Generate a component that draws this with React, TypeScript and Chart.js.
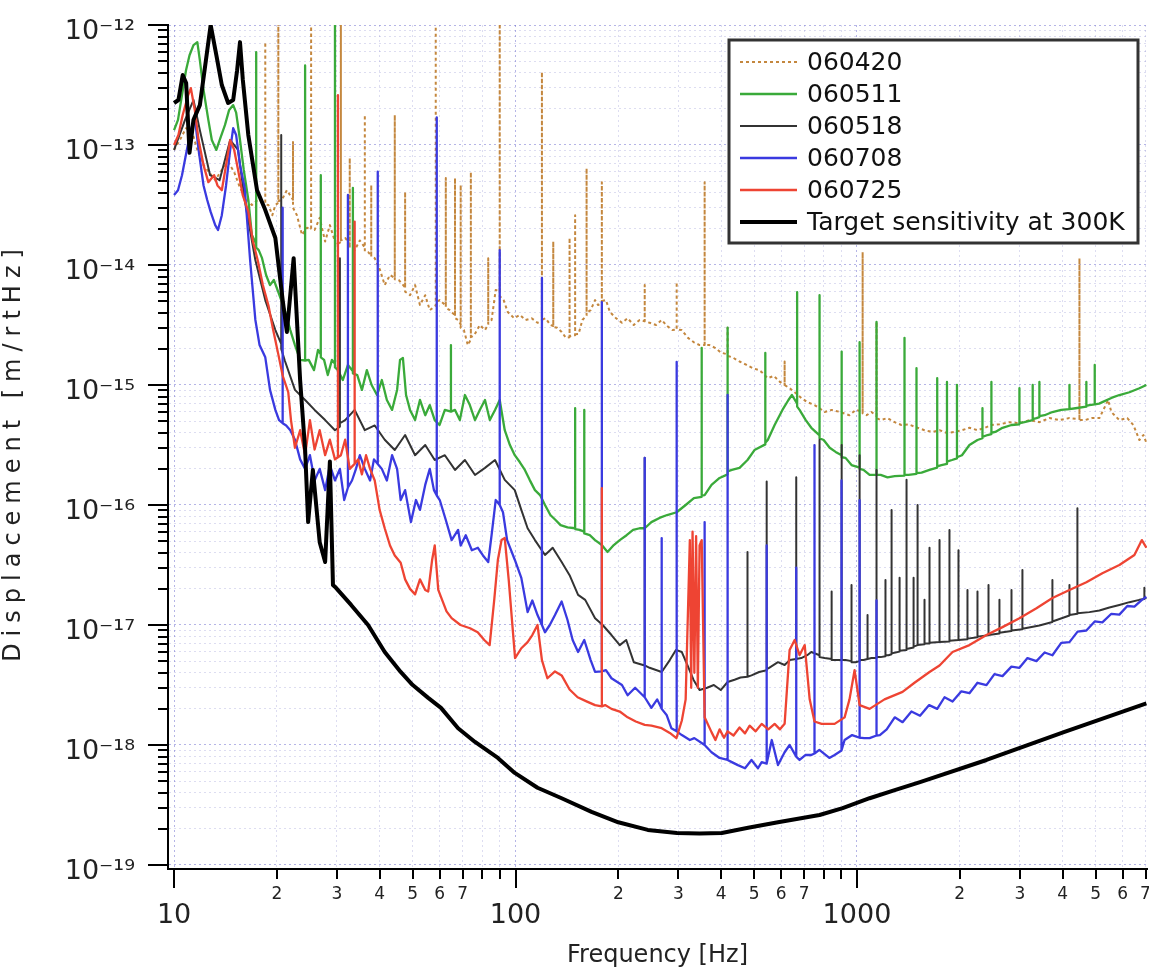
import React, { useEffect, useRef } from 'react';
import { Chart, registerables } from 'chart.js';

Chart.register(...registerables);

type Pt = [number, number];

const FONT = "'DejaVu Sans', 'Noto Sans', sans-serif";

// ---- axis ticks and titles ----
const freqTicks = [10, 20, 30, 40, 50, 60, 70, 80, 90, 100, 200, 300, 400, 500, 600, 700, 800, 900, 1000, 2000, 3000, 4000, 5000, 6000, 7000];
const freqTickLabels = ['10', '2', '3', '4', '5', '6', '7', '', '', '100', '2', '3', '4', '5', '6', '7', '', '', '1000', '2', '3', '4', '5', '6', '7'];
const dispDecades = [1e-19, 1e-18, 1e-17, 1e-16, 1e-15, 1e-14, 1e-13, 1e-12];
const dispDecadeLabels = ['10⁻¹⁹', '10⁻¹⁸', '10⁻¹⁷', '10⁻¹⁶', '10⁻¹⁵', '10⁻¹⁴', '10⁻¹³', '10⁻¹²'];
const dispMinorSteps = [2, 3, 4, 5, 6, 7, 8, 9];
const xAxisTitle = 'Frequency [Hz]';
const yAxisTitle = 'Displacement [m/rtHz]';

// ---- series ----
const seriesLabels = ['060420', '060511', '060518', '060708', '060725', 'Target sensitivity at 300K'];

const target300K: Pt[] = [
  [10, 2.24e-13], [10.3, 2.37e-13], [10.6, 3.83e-13], [10.85, 3.29e-13], [11.1, 8.6e-14], [11.4, 1.62e-13],
  [11.9, 2.15e-13], [12.4, 5.1e-13], [12.8, 1.0e-12], [13.3, 5.6e-13], [13.8, 3.16e-13], [14.4, 2.24e-13],
  [14.9, 2.37e-13], [15.3, 4.2e-13], [15.6, 7.2e-13], [15.9, 3.5e-13], [16.5, 1.21e-13], [17.5, 4.2e-14],
  [18.4, 2.99e-14], [19.8, 1.68e-14], [20.8, 5.1e-15], [21.4, 2.76e-15], [22.4, 1.14e-14], [23.4, 1.1e-15],
  [24.2, 2.9e-16], [24.7, 7.2e-17], [25.5, 1.96e-16], [26.7, 4.9e-17], [27.7, 3.35e-17], [28.6, 2.3e-16],
  [29.2, 2.15e-17], [29.8, 2.04e-17], [33.0, 1.47e-17], [37.0, 1.0e-17], [41.4, 5.95e-18], [46.1, 4.06e-18],
  [50.0, 3.16e-18], [55.5, 2.47e-18], [60.5, 2.04e-18], [67.9, 1.38e-18], [76.1, 1.06e-18], [88.8, 7.8e-19],
  [99.5, 5.85e-19], [116, 4.4e-19], [136.5, 3.6e-19], [167, 2.77e-19], [200, 2.27e-19], [244, 1.96e-19],
  [297, 1.85e-19], [346, 1.83e-19], [402, 1.85e-19], [480, 2.04e-19], [587, 2.27e-19], [777, 2.61e-19],
  [908, 2.98e-19], [1089, 3.6e-19], [1290, 4.2e-19], [1530, 4.9e-19], [2395, 7.5e-19], [4035, 1.28e-18],
  [7040, 2.22e-18],
];

const run060725: Pt[] = [
  [10, 1.0e-13], [10.3, 1.21e-13], [10.6, 1.78e-13], [11.0, 2.61e-13], [11.2, 2.98e-13], [11.5, 1.96e-13],
  [11.8, 1.1e-13], [12.2, 6.8e-14], [12.6, 4.9e-14], [13.1, 5.6e-14], [13.4, 4.6e-14], [13.8, 4.2e-14],
  [14.2, 6.8e-14], [14.6, 1.1e-13], [15.0, 9.1e-14], [15.4, 6.2e-14], [15.9, 3.8e-14], [16.5, 2.8e-14],
  [17.0, 1.6e-14], [17.6, 1.08e-14], [18.2, 6.8e-15], [18.9, 4.6e-15], [19.5, 2.9e-15], [20.2, 1.8e-15],
  [20.8, 1.2e-15], [21.6, 8.7e-16], [22.0, 5.1e-16], [22.6, 3.0e-16], [23.4, 4.2e-16], [24.2, 2.6e-16],
  [25.0, 5.1e-16], [25.8, 2.9e-16], [26.7, 4.2e-16], [27.7, 2.6e-16], [28.6, 3.5e-16], [29.6, 2.4e-16],
  [30.2, 2.5e-16], [30.2, 2.6e-13], [30.2, 2.5e-16],
  [30.8, 2.6e-16], [31.7, 3.5e-16], [32.7, 2.0e-16],
  [33.8, 2.2e-16], [33.8, 2.3e-14], [33.8, 2.2e-16],
  [34.6, 2.4e-16], [35.5, 1.8e-16], [36.5, 2.6e-16], [37.5, 2.0e-16], [38.7, 1.6e-16], [40.0, 9.1e-17],
  [41.4, 6.4e-17], [42.9, 4.6e-17], [44.3, 3.8e-17], [46.1, 3.3e-17], [47.5, 2.4e-17], [49.1, 2.0e-17],
  [50.8, 1.8e-17], [52.5, 2.4e-17], [54.4, 1.96e-17], [55.5, 1.9e-17], [57.0, 3.5e-17], [58.0, 4.6e-17],
  [59.4, 1.96e-17], [62.8, 1.3e-17], [65.0, 1.14e-17], [69.0, 1.0e-17], [73.6, 9.4e-18], [77.5, 8.7e-18],
  [81.0, 7.5e-18], [84.0, 6.8e-18], [86.6, 1.6e-17], [88.8, 3.5e-17], [91.0, 5.1e-17], [93.0, 5.3e-17],
  [95.5, 2.4e-17], [99.7, 5.3e-18], [104, 6.4e-18], [108.5, 7.2e-18], [112, 8.25e-18], [116, 1.0e-17],
  [119.5, 5.1e-18], [124, 3.6e-18], [130.5, 4.1e-18], [136.5, 3.8e-18], [144, 2.9e-18], [152, 2.5e-18],
  [162, 2.3e-18], [171, 2.15e-18],
  [179, 2.1e-18], [179, 1.38e-16], [179, 2.1e-18],
  [183, 2.15e-18], [191, 2.0e-18], [202, 1.9e-18], [213, 1.7e-18], [225, 1.57e-18], [239, 1.47e-18],
  [250, 1.45e-18], [268, 1.38e-18], [283, 1.26e-18], [296, 1.14e-18], [307, 1.6e-18], [315, 2.4e-18],
  [324, 5.1e-17], [327, 3.0e-18], [330, 6.0e-17], [334, 4.0e-18], [338, 5.5e-17], [342, 3.0e-18],
  [346, 4.6e-17], [351, 5.1e-17], [358, 1.7e-18], [375, 1.28e-18], [385, 1.1e-18], [396, 1.35e-18],
  [408, 1.15e-18], [418, 1.3e-18], [435, 1.2e-18], [453, 1.4e-18], [470, 1.25e-18], [485, 1.45e-18],
  [505, 1.3e-18], [526, 1.5e-18], [550, 1.35e-18], [574, 1.5e-18], [595, 1.35e-18], [614, 1.5e-18],
  [635, 6.2e-18], [657, 7.5e-18], [679, 5.6e-18], [703, 6.8e-18], [727, 2.4e-18], [751, 1.57e-18],
  [788, 1.5e-18], [860, 1.5e-18], [920, 1.7e-18], [951, 2.4e-18], [984, 4.2e-18], [1018, 2.15e-18],
  [1089, 2.0e-18], [1204, 2.4e-18], [1360, 2.77e-18], [1474, 3.3e-18], [1631, 4.06e-18], [1745, 4.6e-18],
  [1905, 5.95e-18], [2135, 6.8e-18], [2395, 8.25e-18], [2668, 9.6e-18], [2991, 1.14e-17], [3355, 1.38e-17],
  [3736, 1.68e-17], [4191, 1.96e-17], [4697, 2.27e-17], [5232, 2.7e-17], [5868, 3.16e-17], [6494, 3.83e-17],
  [6830, 5.1e-17], [7040, 4.4e-17],
];

const run060708: Pt[] = [
  [10, 3.83e-14], [10.27, 4.2e-14], [10.55, 5.6e-14], [10.9, 9.1e-14], [11.2, 1.33e-13], [11.5, 1.7e-13],
  [11.8, 9.1e-14], [12.2, 4.6e-14], [12.5, 3.5e-14], [12.8, 2.77e-14], [13.2, 2.15e-14], [13.45, 1.96e-14],
  [13.8, 2.6e-14], [14.2, 4.6e-14], [14.6, 9.1e-14], [14.9, 1.38e-13], [15.2, 1.21e-13], [15.6, 6.8e-14],
  [16.1, 4.4e-14], [16.7, 1.1e-14], [17.3, 3.5e-15], [17.8, 2.15e-15], [18.5, 1.7e-15], [19.1, 9.1e-16],
  [19.8, 6.2e-16], [20.3, 5.1e-16],
  [20.8, 4.8e-16], [20.8, 3.0e-14], [20.8, 4.8e-16],
  [21.3, 4.6e-16], [21.9, 4.2e-16], [22.6, 3.5e-16], [23.4, 2.4e-16], [24.2, 2.0e-16], [25.0, 2.6e-16],
  [25.8, 1.6e-16], [26.7, 2.0e-16], [27.7, 1.33e-16], [28.6, 2.15e-16], [29.6, 1.6e-16], [30.6, 2.0e-16],
  [31.5, 1.1e-16],
  [32.3, 1.4e-16], [32.3, 3.83e-14], [32.3, 1.4e-16],
  [33.2, 1.6e-16], [34.1, 2.0e-16], [35.0, 2.6e-16], [36.2, 2.0e-16], [37.5, 1.6e-16], [38.5, 2.4e-16],
  [39.5, 2.2e-16], [39.5, 6.0e-14], [39.5, 2.2e-16],
  [40.6, 2.0e-16], [42.0, 1.6e-16], [43.5, 2.6e-16], [45.0, 2.0e-16], [46.1, 1.1e-16], [47.5, 1.33e-16],
  [49.4, 7.2e-17], [51.1, 1.1e-16], [52.5, 9.1e-17], [54.4, 1.47e-16], [56.1, 2.0e-16], [57.7, 1.33e-16],
  [58.8, 1.2e-16], [58.8, 1.7e-13], [58.8, 1.2e-16],
  [60.0, 1.1e-16], [62.5, 7.5e-17], [65.0, 5.1e-17], [67.9, 6.2e-17], [69.1, 4.6e-17], [71.5, 5.6e-17],
  [74.5, 4.2e-17], [77.6, 4.4e-17], [80.3, 3.8e-17], [83.2, 3.35e-17], [85.1, 5.6e-17], [87.5, 1.1e-16],
  [89.9, 1.0e-16], [89.9, 1.33e-14], [89.9, 1.0e-16],
  [91.9, 8.7e-17], [94.5, 5.1e-17], [99.5, 3.5e-17], [104, 2.47e-17], [108.5, 1.28e-17], [112, 1.6e-17],
  [116, 1.21e-17],
  [119.5, 1.0e-17], [119.5, 7.8e-15], [119.5, 1.0e-17],
  [122, 8.7e-18], [126, 1.0e-17], [130.5, 1.21e-17], [136.5, 1.57e-17], [142, 1.1e-17], [147, 7.5e-18],
  [152.5, 5.95e-18], [159, 7.5e-18], [166, 5.1e-18], [171, 4.06e-18],
  [179, 4.1e-18], [179, 4.9e-15], [179, 4.1e-18],
  [184, 4.2e-18], [191, 3.6e-18], [205, 3.16e-18], [213, 2.6e-18], [224, 3.0e-18],
  [239, 2.5e-18], [239, 2.47e-16], [239, 2.5e-18],
  [250, 2.04e-18], [260, 2.4e-18],
  [268, 2.0e-18], [268, 5.3e-17], [268, 2.0e-18],
  [277, 1.78e-18], [286, 1.38e-18],
  [296.5, 1.3e-18], [296.5, 1.56e-15], [296.5, 1.3e-18],
  [307, 1.21e-18], [324, 1.1e-18], [334, 1.14e-18],
  [358, 1.0e-18], [358, 7.2e-17], [358, 1.0e-18],
  [375, 8.7e-19], [396, 7.8e-19],
  [418, 7.5e-19], [418, 8.25e-16], [418, 7.5e-19],
  [430, 7.2e-19], [448, 6.8e-19], [470, 6.4e-19], [491, 7.5e-19], [513, 6.4e-19], [526, 7.2e-19],
  [544, 7.0e-19], [544, 4.6e-17], [544, 7.0e-19],
  [563, 1.1e-18], [587, 6.8e-19], [614, 8.7e-19], [635, 1.0e-18],
  [664, 8.0e-19], [664, 3.0e-17], [664, 8.0e-19],
  [679, 7.5e-19], [706, 8.25e-19], [735, 8.25e-19],
  [751, 8.5e-19], [751, 3.16e-16], [751, 8.5e-19],
  [776, 9.1e-19], [830, 7.8e-19], [860, 8.25e-19],
  [901, 9.0e-19], [901, 1.6e-16], [901, 9.0e-19],
  [920, 1.1e-18], [968, 1.21e-18],
  [1018, 1.15e-18], [1018, 1.1e-16], [1018, 1.15e-18],
  [1050, 1.14e-18], [1089, 1.14e-18],
  [1141, 1.2e-18], [1141, 1.6e-17], [1141, 1.2e-18],
  [1167, 1.21e-18], [1222, 1.35e-18], [1290, 1.7e-18], [1360, 1.55e-18], [1444, 1.9e-18], [1530, 1.75e-18],
  [1627, 2.15e-18], [1718, 2.0e-18], [1805, 2.5e-18], [1905, 2.3e-18], [2022, 2.8e-18], [2135, 2.7e-18],
  [2254, 3.3e-18], [2395, 3.15e-18], [2527, 3.9e-18], [2668, 3.75e-18], [2834, 4.5e-18], [2991, 4.4e-18],
  [3158, 5.3e-18], [3355, 5.0e-18], [3544, 5.9e-18], [3736, 5.6e-18], [3965, 7.1e-18], [4191, 7.2e-18],
  [4427, 8.8e-18], [4697, 9.0e-18], [4970, 1.07e-17], [5232, 1.05e-17], [5560, 1.24e-17], [5868, 1.22e-17],
  [6190, 1.44e-17], [6494, 1.42e-17], [6830, 1.62e-17], [7040, 1.72e-17],
];

const run060518: Pt[] = [
  [10, 9.1e-14], [10.77, 1.62e-13], [11.4, 2.37e-13], [11.9, 1.33e-13], [12.75, 5.6e-14], [13.6, 5.1e-14],
  [14.6, 1.1e-13], [15.4, 9.1e-14], [16.1, 3.5e-14], [17.3, 1.1e-14], [18.5, 5.1e-15], [19.8, 2.87e-15],
  [20.6, 2.2e-15], [20.6, 1.21e-13], [20.6, 2.0e-15],
  [21.1, 1.6e-15], [22.6, 9.1e-16], [24.2, 7.5e-16], [25.8, 6.2e-16], [27.7, 5.1e-16], [29.6, 4.2e-16],
  [30.6, 4.5e-16], [30.6, 1.14e-14], [30.6, 4.8e-16],
  [31.7, 5.1e-16], [33.8, 6.2e-16], [36.2, 4.2e-16], [38.7, 4.6e-16], [41.4, 3.5e-16], [44.3, 2.87e-16],
  [47.5, 3.83e-16], [50.8, 2.6e-16], [54.4, 3.16e-16], [58.0, 2.37e-16], [62.1, 2.6e-16], [66.5, 1.96e-16],
  [71.1, 2.37e-16], [76.1, 1.78e-16], [81.4, 2.04e-16], [87.1, 2.37e-16], [93, 1.62e-16], [99.5, 1.33e-16],
  [104, 9.1e-17], [108.5, 6.4e-17], [114, 5.1e-17], [122, 3.83e-17], [128.5, 4.4e-17], [136.5, 3.35e-17],
  [144, 2.6e-17], [152.5, 1.78e-17], [160, 1.62e-17], [171, 1.14e-17], [180, 1.0e-17], [191, 8.25e-18],
  [202, 6.8e-18], [211, 7.5e-18], [222, 4.9e-18],
  [239, 4.6e-18], [239, 2.47e-16], [239, 4.6e-18],
  [247, 4.4e-18], [268, 4.06e-18], [283, 5.1e-18], [295, 6.2e-18], [307, 5.95e-18], [319, 4.6e-18],
  [332, 3.5e-18], [346, 2.87e-18], [364, 3.0e-18], [381, 3.16e-18], [399, 2.87e-18], [418, 3.35e-18],
  [438, 3.5e-18], [456, 3.65e-18],
  [478, 3.7e-18], [478, 4.06e-17], [478, 3.7e-18],
  [491, 3.8e-18], [517, 4.06e-18],
  [544, 4.2e-18], [544, 1.57e-16], [544, 4.3e-18],
  [553, 4.4e-18], [587, 4.9e-18], [614, 4.64e-18], [635, 5.1e-18],
  [664, 5.2e-18], [664, 1.7e-16], [664, 5.2e-18],
  [687, 5.3e-18], [715, 5.6e-18], [735, 5.95e-18],
  [777, 5.6e-18], [777, 3.5e-16], [777, 5.4e-18],
  [804, 5.3e-18],
  [843, 5.2e-18], [843, 1.9e-17], [843, 5.1e-18],
  [866, 5.1e-18],
  [902, 5.1e-18], [902, 3.16e-16], [902, 5.1e-18],
  [926, 5.1e-18],
  [964, 5.0e-18], [964, 2.15e-17], [964, 4.9e-18],
  [991, 4.9e-18],
  [1018, 5.0e-18], [1018, 2.6e-16], [1018, 5.1e-18],
  [1045, 5.1e-18],
  [1074, 5.2e-18], [1074, 1.21e-17], [1074, 5.2e-18],
  [1103, 5.3e-18],
  [1141, 5.3e-18], [1141, 1.96e-16], [1141, 5.4e-18],
  [1173, 5.4e-18],
  [1212, 5.5e-18], [1212, 2.37e-17], [1212, 5.6e-18],
  [1237, 5.6e-18],
  [1263, 5.7e-18], [1263, 9.1e-17], [1263, 5.8e-18],
  [1297, 5.9e-18],
  [1333, 6.0e-18], [1333, 2.47e-17], [1333, 6.1e-18],
  [1397, 6.2e-18], [1397, 1.62e-16], [1397, 6.3e-18],
  [1465, 6.5e-18], [1465, 2.47e-17], [1465, 6.6e-18],
  [1505, 6.8e-18], [1505, 1.0e-16], [1505, 6.8e-18],
  [1577, 6.9e-18], [1577, 1.62e-17], [1577, 7.0e-18],
  [1631, 7.0e-18], [1631, 4.4e-17], [1631, 7.1e-18],
  [1745, 7.2e-18], [1745, 5.1e-17], [1745, 7.2e-18],
  [1866, 7.3e-18], [1866, 6.2e-17], [1866, 7.4e-18],
  [1983, 7.5e-18], [1983, 4.2e-17], [1983, 7.5e-18],
  [2107, 7.6e-18], [2107, 1.96e-17], [2107, 7.7e-18],
  [2254, 7.9e-18], [2254, 1.9e-17], [2254, 8.0e-18],
  [2428, 8.2e-18], [2428, 2.15e-17], [2428, 8.25e-18],
  [2614, 8.5e-18], [2614, 1.62e-17], [2614, 8.6e-18],
  [2835, 8.9e-18], [2835, 1.96e-17], [2835, 9.0e-18],
  [3052, 9.2e-18], [3052, 2.87e-17], [3052, 9.3e-18],
  [3422, 9.9e-18],
  [3736, 1.06e-17], [3736, 2.37e-17], [3736, 1.07e-17],
  [4191, 1.2e-17], [4191, 2.15e-17], [4191, 1.21e-17],
  [4422, 1.24e-17], [4422, 9.4e-17], [4422, 1.25e-17],
  [4794, 1.28e-17], [5129, 1.32e-17], [5486, 1.4e-17], [5868, 1.47e-17], [6280, 1.55e-17], [6716, 1.62e-17],
  [6946, 1.65e-17], [6946, 2.04e-17], [6946, 1.66e-17],
  [7040, 1.68e-17],
];

const run060511: Pt[] = [
  [10, 1.33e-13], [10.27, 1.62e-13], [10.55, 2.61e-13], [10.84, 4.2e-13], [11.1, 5.6e-13], [11.4, 6.8e-13],
  [11.7, 7.2e-13], [11.9, 5.1e-13], [12.2, 2.87e-13], [12.6, 1.62e-13], [12.9, 1.1e-13], [13.3, 9.1e-14],
  [13.6, 1.1e-13], [14.1, 1.47e-13], [14.5, 1.96e-13], [14.9, 2.15e-13], [15.2, 1.86e-13], [15.6, 1.1e-13],
  [16.0, 6.2e-14], [16.5, 3.5e-14], [16.9, 1.78e-14],
  [17.4, 1.5e-14], [17.4, 5.95e-13], [17.4, 1.4e-14],
  [17.7, 1.33e-14], [18.1, 1.14e-14], [18.6, 8.25e-15], [19.1, 6.8e-15], [19.6, 7.5e-15], [20.2, 5.95e-15],
  [21.1, 4.2e-15], [21.9, 2.87e-15], [22.6, 2.15e-15], [23.4, 1.62e-15],
  [24.2, 1.6e-15], [24.2, 4.6e-13], [24.2, 1.6e-15],
  [24.8, 1.62e-15], [25.7, 1.33e-15], [26.4, 1.96e-15],
  [26.9, 1.8e-15], [26.9, 5.6e-14], [26.9, 1.7e-15],
  [27.5, 1.62e-15], [28.2, 1.21e-15], [29.0, 1.62e-15],
  [29.6, 1.5e-15], [29.6, 1.2e-12], [29.6, 1.4e-15],
  [30.2, 1.33e-15], [31.2, 1.1e-15], [32.3, 1.47e-15],
  [33.4, 1.3e-15], [33.4, 4.4e-14], [33.4, 1.25e-15],
  [34.4, 1.21e-15], [35.5, 9.1e-16], [36.7, 1.33e-15], [37.9, 1.0e-15], [39.3, 8.25e-16], [40.6, 1.1e-15],
  [42.0, 7.5e-16], [43.5, 6.2e-16], [45.0, 9.1e-16], [45.9, 1.62e-15], [46.8, 1.68e-15], [47.8, 8.25e-16],
  [49.1, 6.2e-16], [50.8, 5.1e-16], [52.5, 7.5e-16], [54.4, 5.6e-16], [56.1, 6.8e-16], [58.0, 5.1e-16],
  [59.9, 4.64e-16], [62.1, 6.2e-16],
  [64.7, 6.0e-16], [64.7, 2.15e-15], [64.7, 6.0e-16],
  [66.5, 6.2e-16], [68.7, 5.1e-16], [71.1, 8.25e-16], [73.5, 6.8e-16], [76.1, 5.1e-16], [78.6, 6.2e-16],
  [81.4, 7.5e-16], [84.1, 5.1e-16], [87.1, 6.2e-16], [89.9, 7.5e-16], [93, 4.2e-16], [96.3, 3.16e-16],
  [99.5, 2.6e-16], [103, 2.27e-16], [106.5, 1.96e-16], [110, 1.62e-16], [114, 1.33e-16], [118, 1.21e-16],
  [122, 1.0e-16], [126.5, 8.25e-17], [131, 7.5e-17], [135.5, 6.8e-17], [142, 6.5e-17],
  [149.5, 6.4e-17], [149.5, 6.4e-16], [149.5, 6.3e-17],
  [154, 6.2e-17],
  [159, 6.0e-17], [159, 6.2e-16], [159, 5.8e-17],
  [165, 5.6e-17], [171, 5.1e-17], [179, 4.64e-17], [186, 4.06e-17], [194, 4.64e-17], [202, 5.1e-17],
  [211.5, 5.6e-17], [221, 6.2e-17], [231, 6.4e-17], [239, 6.4e-17], [250, 7.2e-17], [264, 7.8e-17],
  [278, 8.25e-17], [296.5, 8.7e-17], [315, 1.0e-16], [333, 1.14e-16],
  [351, 1.17e-16], [351, 2.04e-15], [351, 1.2e-16],
  [358, 1.21e-16], [375, 1.47e-16], [396, 1.68e-16],
  [418, 1.8e-16], [418, 3.0e-15], [418, 1.9e-16],
  [430, 1.96e-16], [453, 2.04e-16], [478, 2.37e-16], [501, 2.87e-16],
  [539, 3.2e-16], [539, 1.85e-15], [539, 3.3e-16],
  [548, 3.48e-16], [574, 4.64e-16], [605, 6.2e-16], [630, 7.5e-16], [645, 8.25e-16],
  [668, 7.0e-16], [668, 5.95e-15], [668, 6.6e-16],
  [679, 6.2e-16], [708, 5.1e-16], [735, 4.4e-16],
  [777, 3.8e-16], [777, 5.6e-15], [777, 3.6e-16],
  [799, 3.48e-16], [832, 3.0e-16], [866, 2.77e-16],
  [902, 2.6e-16], [902, 1.9e-15], [902, 2.5e-16],
  [926, 2.47e-16], [964, 2.15e-16],
  [1018, 2.05e-16], [1018, 2.27e-15], [1018, 2.0e-16],
  [1045, 1.96e-16], [1089, 1.78e-16],
  [1141, 1.78e-16], [1141, 3.35e-15], [1141, 1.78e-16],
  [1173, 1.78e-16], [1229, 1.7e-16], [1290, 1.74e-16],
  [1378, 1.76e-16], [1378, 2.47e-15], [1378, 1.78e-16],
  [1416, 1.78e-16],
  [1494, 1.82e-16], [1494, 1.38e-15], [1494, 1.84e-16],
  [1546, 1.86e-16], [1631, 1.96e-16],
  [1718, 2.05e-16], [1718, 1.14e-15], [1718, 2.1e-16],
  [1768, 2.15e-16],
  [1835, 2.2e-16], [1835, 1.06e-15], [1835, 2.3e-16],
  [1898, 2.37e-16],
  [1963, 2.45e-16], [1963, 1.0e-15], [1963, 2.5e-16],
  [2030, 2.6e-16], [2135, 3.16e-16], [2254, 3.48e-16],
  [2331, 3.6e-16], [2331, 6.4e-16], [2331, 3.7e-16],
  [2412, 3.83e-16],
  [2476, 3.9e-16], [2476, 1.06e-15], [2476, 4.0e-16],
  [2543, 4.06e-16], [2668, 4.4e-16], [2835, 4.64e-16],
  [2991, 4.7e-16], [2991, 9.4e-16], [2991, 4.8e-16],
  [3093, 4.9e-16],
  [3271, 5.1e-16], [3271, 1.0e-15], [3271, 5.2e-16],
  [3355, 5.3e-16],
  [3422, 5.4e-16], [3422, 1.06e-15], [3422, 5.5e-16],
  [3544, 5.6e-16], [3736, 5.95e-16], [3965, 6.2e-16],
  [4191, 6.3e-16], [4191, 1.0e-15], [4191, 6.3e-16],
  [4363, 6.4e-16],
  [4697, 6.6e-16], [4697, 1.06e-15], [4697, 6.7e-16],
  [4794, 6.8e-16],
  [4970, 6.9e-16], [4970, 1.47e-15], [4970, 6.9e-16],
  [5120, 7.0e-16], [5232, 7.2e-16], [5560, 7.8e-16], [5868, 8.25e-16], [6280, 8.7e-16], [6716, 9.4e-16],
  [7040, 1.0e-15],
];

const run060420: Pt[] = [
  [10, 9.1e-14], [10.4, 1.1e-13], [10.84, 1.38e-13], [11.3, 1.28e-13], [11.7, 9.1e-14], [12.2, 6.8e-14],
  [12.66, 5.95e-14], [13.2, 5.1e-14], [13.8, 6.2e-14], [14.4, 7.2e-14], [15.0, 5.95e-14], [15.6, 4.4e-14],
  [16.2, 3.6e-14], [16.9, 3.16e-14], [17.6, 3.5e-14],
  [18.5, 3.3e-14], [18.5, 7.2e-13], [18.5, 3.2e-14],
  [18.9, 3.16e-14], [19.4, 2.6e-14], [19.8, 3.16e-14],
  [20.2, 3.3e-14], [20.2, 1.3e-12], [20.2, 3.4e-14],
  [20.7, 3.5e-14], [21.4, 4.2e-14],
  [22.3, 3.5e-14], [22.3, 1.06e-13], [22.3, 3.0e-14],
  [22.9, 2.6e-14], [23.7, 1.78e-14], [24.5, 2.04e-14],
  [25.2, 2.0e-14], [25.2, 1.3e-12], [25.2, 2.0e-14],
  [25.8, 1.96e-14], [26.7, 2.47e-14], [27.7, 1.57e-14], [28.6, 2.15e-14], [29.8, 1.47e-14],
  [30.8, 1.55e-14], [30.8, 1.3e-12], [30.8, 1.6e-14],
  [31.7, 1.68e-14],
  [32.7, 1.5e-14], [32.7, 7.8e-14], [32.7, 1.4e-14],
  [33.8, 1.33e-14], [35.0, 1.6e-14],
  [36.2, 1.4e-14], [36.2, 1.78e-13], [36.2, 1.3e-14],
  [37.0, 1.28e-14],
  [37.8, 1.2e-14], [37.8, 4.64e-14], [37.8, 1.17e-14],
  [38.7, 1.14e-14], [40.1, 9.1e-15], [41.4, 6.8e-15], [42.9, 8.25e-15],
  [44.3, 7.8e-15], [44.3, 1.78e-13], [44.3, 7.6e-15],
  [45.5, 7.5e-15],
  [47.5, 6.5e-15], [47.5, 4.06e-14], [47.5, 6.0e-15],
  [49.1, 5.6e-15], [50.8, 6.8e-15], [52.5, 4.64e-15], [54.4, 5.6e-15], [56.1, 4.2e-15],
  [58.4, 4.6e-15], [58.4, 1.3e-12], [58.4, 4.9e-15],
  [60.0, 5.1e-15],
  [62.5, 4.6e-15], [62.5, 5.3e-14], [62.5, 4.4e-15],
  [64.2, 4.2e-15],
  [66.5, 3.8e-15], [66.5, 5.3e-14], [66.5, 3.6e-15],
  [67.9, 3.48e-15],
  [69.1, 3.2e-15], [69.1, 4.64e-14], [69.1, 3.0e-15],
  [70.6, 2.87e-15], [72.5, 2.15e-15],
  [74.0, 2.4e-15], [74.0, 5.95e-14], [74.0, 2.5e-15],
  [75.7, 2.6e-15], [78.6, 3.16e-15], [81.4, 2.87e-15],
  [83.2, 3.2e-15], [83.2, 1.14e-14], [83.2, 3.4e-15],
  [85.1, 3.48e-15], [87.5, 6.2e-15],
  [89.9, 6.0e-15], [89.9, 1.3e-12], [89.9, 5.5e-15],
  [92.3, 5.1e-15], [94.9, 4.06e-15], [99.1, 3.6e-15], [103, 3.83e-15], [107, 3.48e-15], [111.5, 3.6e-15],
  [116, 3.3e-15],
  [119.5, 3.4e-15], [119.5, 4.06e-13], [119.5, 3.5e-15],
  [122.5, 3.6e-15], [126.5, 3.16e-15],
  [129, 3.1e-15], [129, 1.57e-14], [129, 3.05e-15],
  [132.5, 3.0e-15], [136.5, 2.77e-15], [140.5, 2.47e-15],
  [144, 2.5e-15], [144, 1.68e-14], [144, 2.55e-15],
  [147, 2.6e-15],
  [149.5, 2.6e-15], [149.5, 2.6e-14], [149.5, 2.65e-15],
  [153, 2.66e-15], [157, 3.48e-15],
  [161.5, 3.8e-15], [161.5, 6.4e-14], [161.5, 4.0e-15],
  [166, 4.2e-15], [171, 5.1e-15], [174.5, 4.64e-15],
  [179, 4.8e-15], [179, 4.9e-14], [179, 5.0e-15],
  [184, 5.1e-15], [189, 4.06e-15], [197, 3.6e-15], [205, 3.3e-15], [213, 3.6e-15], [222, 3.16e-15],
  [231, 3.48e-15],
  [239, 3.4e-15], [239, 6.8e-15], [239, 3.4e-15],
  [247, 3.3e-15], [258, 3.16e-15], [268, 3.48e-15], [278, 3.1e-15], [288, 2.87e-15],
  [296.5, 2.9e-15], [296.5, 7.2e-15], [296.5, 2.9e-15],
  [306.7, 2.87e-15], [320, 2.47e-15], [333, 2.27e-15], [346, 2.15e-15],
  [358, 2.15e-15], [358, 4.9e-14], [358, 2.15e-15],
  [370, 2.15e-15], [384, 2.04e-15], [400, 1.86e-15],
  [418, 1.8e-15], [418, 3.0e-15], [418, 1.75e-15],
  [432, 1.7e-15], [453, 1.57e-15], [475, 1.47e-15], [496, 1.38e-15], [517, 1.33e-15], [526, 1.28e-15],
  [548, 1.14e-15], [571, 1.19e-15], [595, 1.06e-15],
  [614, 1.0e-15], [614, 1.57e-15], [614, 1.0e-15],
  [635, 9.4e-16], [657, 8.7e-16], [687, 7.8e-16], [715, 7.2e-16], [751, 6.8e-16], [777, 6.4e-16],
  [804, 5.95e-16], [843, 6.2e-16], [895, 5.95e-16], [950, 5.6e-16], [992, 6.2e-16],
  [1039, 6.0e-16], [1039, 1.28e-14], [1039, 5.8e-16],
  [1067, 5.6e-16], [1103, 5.95e-16],
  [1141, 5.5e-16], [1141, 3.35e-15], [1141, 5.3e-16],
  [1173, 5.1e-16], [1229, 5.3e-16], [1289, 4.9e-16], [1350, 4.64e-16], [1416, 4.7e-16], [1505, 4.4e-16],
  [1577, 4.2e-16], [1664, 4.06e-16], [1745, 4.2e-16], [1836, 3.98e-16], [1930, 4.06e-16], [2030, 4.2e-16],
  [2135, 4.4e-16], [2254, 4.2e-16], [2370, 4.4e-16], [2476, 4.64e-16], [2614, 4.7e-16], [2795, 4.9e-16],
  [2991, 4.8e-16], [3200, 5.1e-16], [3422, 4.9e-16], [3662, 5.3e-16], [3918, 5.1e-16], [4191, 5.3e-16],
  [4483, 5.2e-16], [4483, 1.14e-14], [4483, 5.1e-16],
  [4650, 5.1e-16], [4880, 5.3e-16], [5129, 5.3e-16], [5440, 7.5e-16], [5560, 5.95e-16], [5868, 5.1e-16],
  [6190, 5.3e-16], [6450, 4.64e-16], [6716, 3.48e-16], [6900, 3.83e-16], [7040, 3.3e-16],
];

// ---- tick objects built from the arrays above ----
const yTickList: { value: number; major: boolean; label: string }[] = [];
dispDecades.forEach((d, i) => {
  yTickList.push({ value: d, major: true, label: dispDecadeLabels[i] });
  if (i < dispDecades.length - 1) {
    dispMinorSteps.forEach((m) => yTickList.push({ value: m * d, major: false, label: '' }));
  }
});

const axisTicksPlugin = {
  id: 'axisTicks',
  afterDraw(chart: any) {
    const { ctx, chartArea } = chart;
    const xs = chart.scales.x;
    const ys = chart.scales.y;
    ctx.save();
    ctx.strokeStyle = '#000';
    ctx.lineWidth = 2;
    ctx.setLineDash([]);
    xs.ticks.forEach((t: any) => {
      const px = Math.round(xs.getPixelForValue(t.value));
      const len = t.major ? 19 : 10;
      ctx.beginPath();
      ctx.moveTo(px, chartArea.bottom);
      ctx.lineTo(px, chartArea.bottom + len);
      ctx.stroke();
    });
    ys.ticks.forEach((t: any) => {
      const py = Math.round(ys.getPixelForValue(t.value));
      const len = t.major ? 20 : 10;
      ctx.beginPath();
      ctx.moveTo(chartArea.left - len, py);
      ctx.lineTo(chartArea.left, py);
      ctx.stroke();
    });
    // y-axis title, letter-spaced as in the source figure
    ctx.save();
    ctx.translate(14, (chartArea.top + chartArea.bottom) / 2 + 5);
    ctx.rotate(-Math.PI / 2);
    (ctx as any).letterSpacing = '7px';
    ctx.font = `24px ${FONT}`;
    ctx.fillStyle = '#222222';
    ctx.textAlign = 'center';
    ctx.textBaseline = 'middle';
    ctx.fillText(yAxisTitle, 0, 0);
    ctx.restore();
    ctx.restore();
  },
};

const boxLegendPlugin = {
  id: 'boxLegend',
  afterDraw(chart: any) {
    const { ctx, chartArea } = chart;
    const w = 409;
    const h = 203;
    const left = chartArea.right - 418;
    const top = chartArea.top + 15;
    ctx.save();
    ctx.fillStyle = '#ffffff';
    ctx.fillRect(left, top, w, h);
    ctx.strokeStyle = '#333333';
    ctx.lineWidth = 3;
    ctx.setLineDash([]);
    ctx.strokeRect(left, top, w, h);
    ctx.font = `25px ${FONT}`;
    ctx.textBaseline = 'middle';
    ctx.textAlign = 'left';
    seriesLabels.forEach((lab, i) => {
      const ds: any = chart.data.datasets.find((d: any) => d.label === lab);
      const yy = top + 22 + i * 32;
      ctx.strokeStyle = ds.borderColor;
      ctx.lineWidth = ds.borderWidth;
      ctx.setLineDash(ds.borderDash || []);
      ctx.beginPath();
      ctx.moveTo(left + 11, yy);
      ctx.lineTo(left + 68, yy);
      ctx.stroke();
      ctx.setLineDash([]);
      ctx.fillStyle = '#111111';
      ctx.fillText(lab, left + 78, yy + 1);
    });
    ctx.restore();
  },
};

export default function App() {
  const canvasRef = useRef<HTMLCanvasElement>(null);

  useEffect(() => {
    const toXY = (arr: Pt[]) => arr.map(([x, y]) => ({ x, y }));
    const line = (label: string, data: Pt[], color: string, width: number, dash?: number[]) => ({
      label,
      data: toXY(data),
      borderColor: color,
      backgroundColor: color,
      borderWidth: width,
      borderDash: dash || [],
      pointRadius: 0,
      tension: 0,
      fill: false,
      borderJoinStyle: 'round' as const,
    });

    const gridColor = (c: any) => (c.tick && c.tick.major ? 'rgba(90,90,200,0.45)' : 'rgba(120,120,200,0.25)');

    const chart = new Chart(canvasRef.current as HTMLCanvasElement, {
      type: 'line',
      data: {
        datasets: [
          line(seriesLabels[5], target300K, '#000000', 4),
          line(seriesLabels[4], run060725, '#ee4433', 2.3),
          line(seriesLabels[3], run060708, '#3a3ae0', 2.3),
          line(seriesLabels[2], run060518, '#333333', 2),
          line(seriesLabels[1], run060511, '#3aaa3a', 2.3),
          line(seriesLabels[0], run060420, '#c4873e', 2, [3, 3]),
        ],
      },
      options: {
        responsive: false,
        animation: false,
        layout: { padding: { top: 25, right: 2, left: 0, bottom: 0 } },
        plugins: {
          legend: { display: false },
          tooltip: { enabled: false },
        },
        scales: {
          x: {
            type: 'logarithmic',
            min: 9.6,
            max: 7070,
            afterBuildTicks: (s: any) => {
              s.ticks = freqTicks.map((v, i) => ({ value: v, major: freqTickLabels[i].length > 1 }));
            },
            afterFit: (s: any) => {
              s.height = 102;
              s.paddingLeft = 0;
              s.paddingRight = 0;
            },
            ticks: {
              autoSkip: false,
              maxRotation: 0,
              minRotation: 0,
              padding: 15,
              color: '#222222',
              font: (c: any) =>
                c.tick && c.tick.major
                  ? { family: FONT, size: 27, lineHeight: 0.79 }
                  : { family: FONT, size: 17, lineHeight: 1.2 },
              callback: (_v: any, i: number) => {
                const l = freqTickLabels[i] || '';
                return l.length > 1 ? ['', l] : l;
              },
            },
            grid: { drawTicks: false, color: gridColor, lineWidth: 1 },
            border: { display: true, color: '#000000', width: 2, dash: [2, 3] },
            title: {
              display: true,
              text: xAxisTitle,
              color: '#222222',
              font: { family: FONT, size: 24 },
              padding: { top: 0, bottom: 1 },
            },
          },
          y: {
            type: 'logarithmic',
            min: 9.26e-20,
            max: 1e-12,
            afterBuildTicks: (s: any) => {
              s.ticks = yTickList.map((t) => ({ value: t.value, major: t.major }));
            },
            afterFit: (s: any) => {
              s.width = 168;
              s.paddingTop = 0;
              s.paddingBottom = 0;
            },
            ticks: {
              autoSkip: false,
              padding: 33,
              labelOffset: 7,
              color: '#222222',
              font: { family: FONT, size: 27 },
              callback: (_v: any, i: number) => (yTickList[i] ? yTickList[i].label : ''),
            },
            grid: { drawTicks: false, color: gridColor, lineWidth: 1 },
            border: { display: true, color: '#000000', width: 2, dash: [2, 3] },
            title: { display: false, text: yAxisTitle },
          },
        },
      } as any,
      plugins: [axisTicksPlugin, boxLegendPlugin],
    });

    return () => chart.destroy();
  }, []);

  return (
    <div style={{ position: 'fixed', left: 0, top: 0, width: 1149, height: 971, background: '#ffffff' }}>
      <canvas ref={canvasRef} width={1149} height={971} style={{ width: 1149, height: 971, display: 'block' }} />
    </div>
  );
}
